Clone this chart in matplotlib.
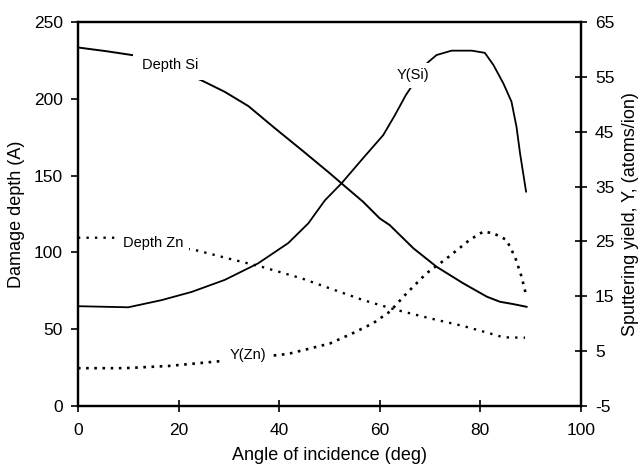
import matplotlib.pyplot as plt

plt.rcParams['font.family'] = ['Liberation Sans', 'DejaVu Sans']
plt.rcParams['axes.unicode_minus'] = False

# damage depth (A), left axis
depth_si_x = [0, 5.8, 11.7, 24.5, 29.2, 33.9, 39.2, 44.5, 50.1, 52.4, 56.7, 60.0, 62.0, 66.7,
              71.3, 76.6, 81.3, 83.9, 86.5, 89.2]
depth_si_y = [233.5, 231.0, 228.1, 212.2, 204.6, 195.3, 180.8, 166.7, 151.5, 145.0, 133.0, 122.2, 117.8, 102.7,
              90.7, 79.9, 71.2, 67.9, 66.4, 64.6]

depth_zn_x = [0, 7.4, 23.3, 30.6, 36.5, 44.5, 50.1, 56.7, 63.4, 70.0, 76.6, 81.9, 84.6, 88.9]
depth_zn_y = [109.6, 109.6, 101.6, 95.5, 90.7, 83.1, 76.6, 69.0, 62.5, 57.1, 52.1, 47.3, 44.7, 44.5]

# sputtering yield (atoms/ion), right axis
yield_si_x = [0, 10, 16.6, 22.6, 29.2, 35.8, 41.8, 45.8, 49.1, 52.4, 56.7, 60.7, 63.0, 65.2,
              69.5, 71.3, 74.3, 78.3, 80.9, 82.6, 84.6, 86.2, 87.2, 87.9, 89.1]
yield_si_y = [13.2, 13.0, 14.3, 15.8, 18.0, 21.0, 24.7, 28.3, 32.5, 35.6, 40.2, 44.4, 48.0, 51.7,
              57.6, 59.0, 59.8, 59.8, 59.4, 57.2, 53.8, 50.5, 45.9, 41.1, 34.1]

yield_zn_x = [0, 9.3, 18.0, 28.6, 41.8, 50.1, 54.7, 58.7, 62.0, 65.3, 69.3, 73.3, 77.9, 80.6,
              82.6, 85.2, 86.9, 88.2, 89.2]
yield_zn_y = [1.9, 1.9, 2.3, 3.2, 4.5, 6.4, 8.3, 10.1, 12.2, 15.5, 19.2, 21.9, 25.3, 26.8,
              26.5, 25.3, 22.2, 18.6, 14.9]

fig = plt.figure(figsize=(6.44, 4.71), dpi=100)
ax = fig.add_axes([0.121, 0.138, 0.781, 0.815])
ax2 = ax.twinx()

ax.plot(depth_si_x, depth_si_y, color='black', lw=1.4)
ax.plot(depth_zn_x, depth_zn_y, color='black', lw=1.7, linestyle=(0, (1, 2.6)))
ax2.plot(yield_si_x, yield_si_y, color='black', lw=1.3)
ax2.plot(yield_zn_x, yield_zn_y, color='black', lw=1.9, linestyle=(0, (1, 2.1)))

ax.set_xlim(0, 100)
ax.set_ylim(0, 250)
ax2.set_ylim(-5, 65)
ax.set_xticks(range(0, 101, 20))
ax.set_yticks(range(0, 251, 50))
ax2.set_yticks(range(-5, 66, 10))

# curve labels sit on a white box so the line breaks around them
ax2.set_zorder(ax.get_zorder() - 1)
ax.patch.set_visible(False)
box = dict(facecolor='white', edgecolor='none', pad=4)
ax.text(18.3, 222, 'Depth Si', fontsize=10.5, ha='center', va='center',
        bbox=dict(facecolor='white', edgecolor='none', pad=6))
ax.text(66.6, 215.5, 'Y(Si)', fontsize=10.5, ha='center', va='center', bbox=box)
ax.text(15.0, 105.9, 'Depth Zn', fontsize=10.5, ha='center', va='center', bbox=box)
ax.text(33.8, 33.2, 'Y(Zn)', fontsize=10.5, ha='center', va='center', bbox=box)

ax.set_xlabel('Angle of incidence (deg)', fontsize=13, labelpad=6)
ax.set_ylabel('Damage depth (A)', fontsize=13, labelpad=6)
ax2.set_ylabel('Sputtering yield, Y, (atoms/ion)', fontsize=13, labelpad=5)

ax.tick_params(axis='x', direction='inout', length=9, width=1.2, labelsize=12.5, pad=8)
ax.tick_params(axis='y', direction='out', length=5, width=1.2, labelsize=12.5, pad=6)
ax2.tick_params(axis='y', direction='inout', length=8.5, width=1.2, labelsize=12.5, pad=6)
for a in (ax, ax2):
    for s in a.spines.values():
        s.set_linewidth(1.6)

fig.savefig('out.png', dpi=100)
